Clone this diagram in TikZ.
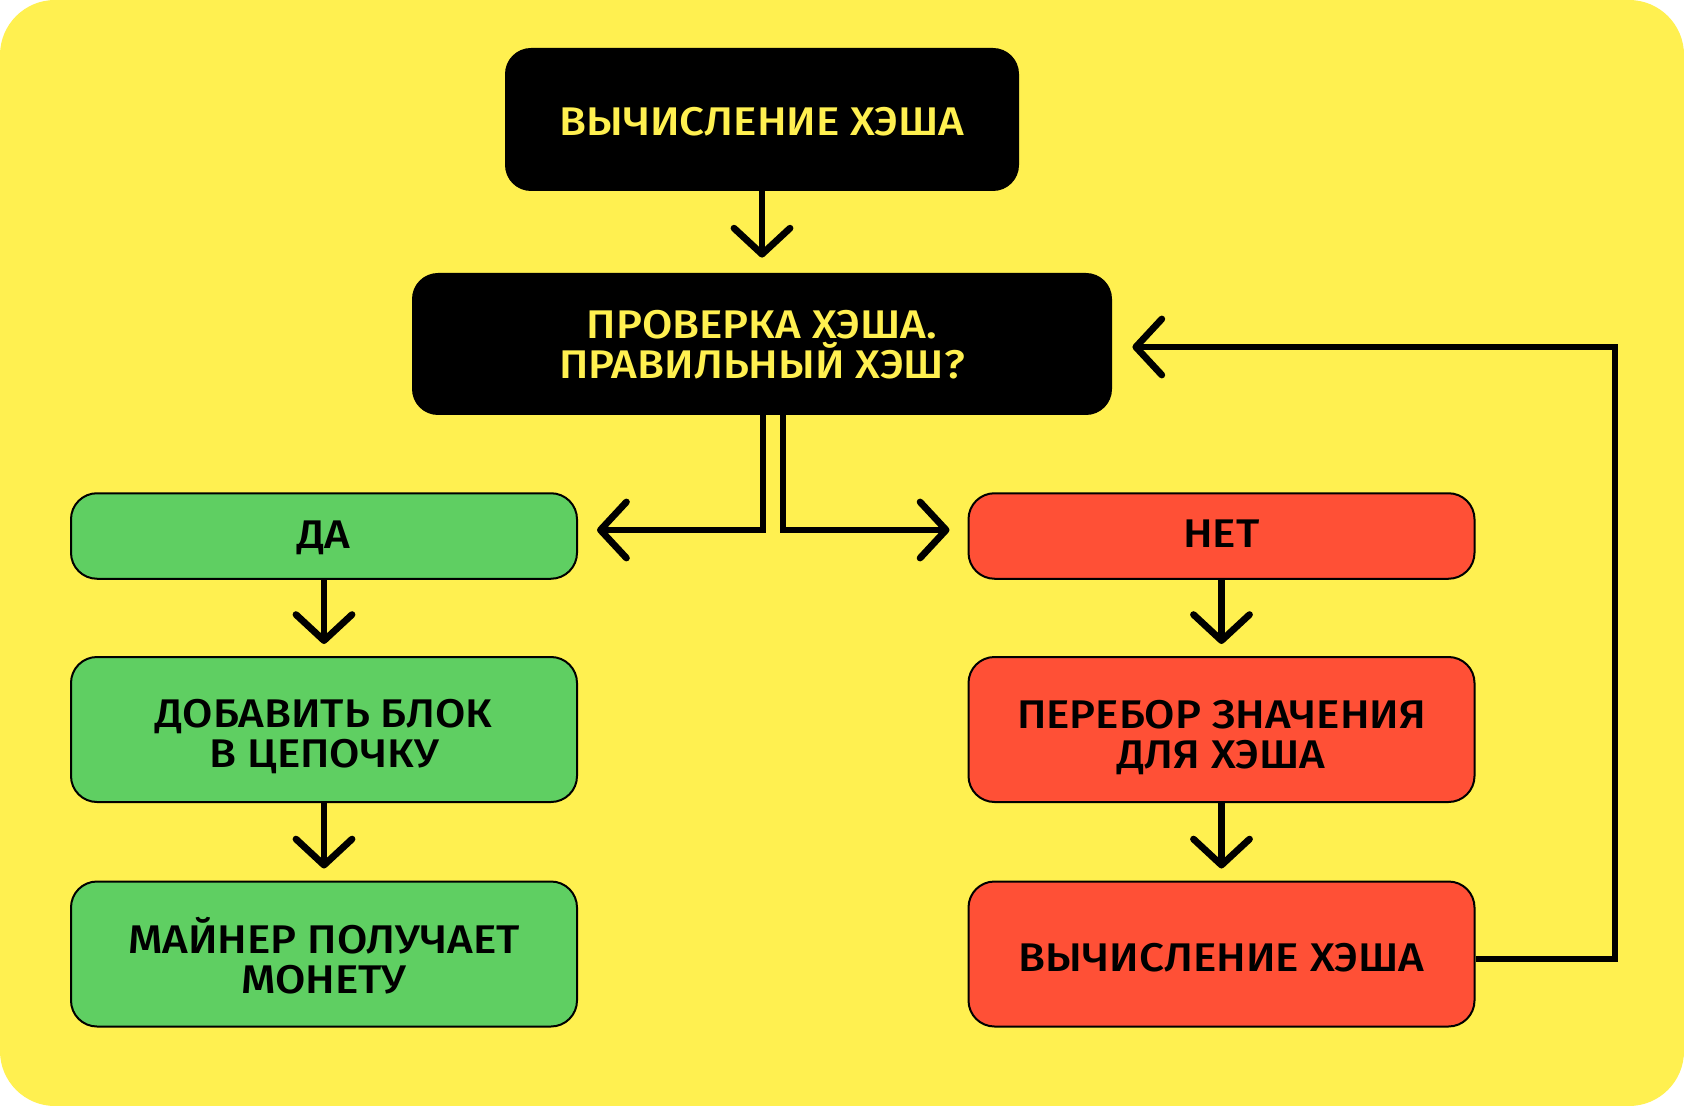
\documentclass[tikz,border=0pt]{standalone}
\usepackage{fontspec}
\setmainfont{Fira Sans Medium}[FakeStretch=1.1]
\usetikzlibrary{arrows.meta,calc}
\definecolor{bgyellow}{HTML}{FFF050}
\definecolor{boxgreen}{HTML}{5FCF62}
\definecolor{boxred}{HTML}{FF5036}
\newcommand{\boxlines}[1]{\begin{tabular}[t]{@{}c@{}}#1\end{tabular}}
\tikzset{
  basebox/.style={rounded corners=13pt, inner sep=0pt},
  blackbox/.style={basebox, fill=black},
  greenbox/.style={basebox, fill=boxgreen, draw=black, line width=1pt,
    minimum width=253pt},
  redbox/.style={basebox, fill=boxred, draw=black, line width=1pt,
    minimum width=253pt},
  tall/.style={minimum height=72.5pt},
  short/.style={minimum height=42.75pt},
  boxtext/.style={anchor=base, inner sep=0pt, text=black,
    font=\fontsize{20}{20}\selectfont},
  darktext/.style={boxtext, text=bgyellow},
  flow/.style={line width=3.4pt, -{Straight Barb[length=13pt,width=28pt,round]}},
}
\begin{document}
\begin{tikzpicture}[x=0.5pt,y=-0.5pt]
\fill[white] (0,0) rectangle (1684,1106);
\fill[bgyellow, rounded corners=27.5pt] (0,0) rectangle (1684,1106);
\useasboundingbox (0,0) rectangle (1684,1106);

% boxes
\node[blackbox, minimum width=257pt, minimum height=71.5pt] (top) at (762,119.5) {};
\node[blackbox, minimum width=350pt, minimum height=71pt] (check) at (762,344) {};
\node[greenbox, short] (yes) at (324,536) {};
\node[greenbox, tall] (add) at (324,729.5) {};
\node[greenbox, tall] (miner) at (324,954) {};
\node[redbox, short] (no) at (1221.5,536) {};
\node[redbox, tall] (iter) at (1221.5,729.5) {};
\node[redbox, tall] (calc) at (1221.5,954) {};

% texts (anchored at first baseline)
\node[darktext] (topT) at (762,136) {\boxlines{ВЫЧИСЛЕНИЕ ХЭША}};
\node[darktext] (checkT) at (762,338.5) {\boxlines{ПРОВЕРКА ХЭША.\\ПРАВИЛЬНЫ\smash{Й} ХЭШ?}};
\node[boxtext] (yesT) at (324,548) {\boxlines{ДА}};
\node[boxtext] (addT) at (324,727) {\boxlines{ДОБАВИТЬ БЛОК\\В ЦЕПОЧКУ}};
\node[boxtext] (minerT) at (324,953) {\boxlines{МАЙНЕР ПОЛУЧАЕТ\\МОНЕТУ}};
\node[boxtext] (noT) at (1221.5,547) {\boxlines{НЕТ}};
\node[boxtext] (iterT) at (1221.5,728) {\boxlines{ПЕРЕБОР ЗНАЧЕНИЯ\\ДЛЯ ХЭША}};
\node[boxtext] (calcT) at (1221.5,971) {\boxlines{ВЫЧИСЛЕНИЕ ХЭША}};

% top -> check
\draw[flow] (top.south) -- ($(check.north)+(0,-15)$);
% split
\coordinate (lsplit) at (763,530);
\coordinate (rsplit) at (783,530);
\coordinate (ltip) at ($(yes.east |- lsplit)+(19,0)$);
\coordinate (rtip) at ($(no.west |- rsplit)+(-18,0)$);
\draw[flow] (check.south -| lsplit) -- (lsplit) -- (ltip);
\draw[flow] (check.south -| rsplit) -- (rsplit) -- (rtip);
% green column
\draw[flow] (yes.south) -- ($(add.north)+(0,-12)$);
\draw[flow] (add.south) -- ($(miner.north)+(0,-12)$);
% red column
\draw[flow] (no.south) -- ($(iter.north)+(0,-12)$);
\draw[flow] (iter.south) -- ($(calc.north)+(0,-12)$);
% loop back
\coordinate (lpbot) at (1615,959);
\coordinate (lptip) at ($(check.east |- 0,347)+(20,0)$);
\draw[flow] (calc.east |- lpbot) -- (lpbot) |- (lptip);
\end{tikzpicture}
\end{document}
